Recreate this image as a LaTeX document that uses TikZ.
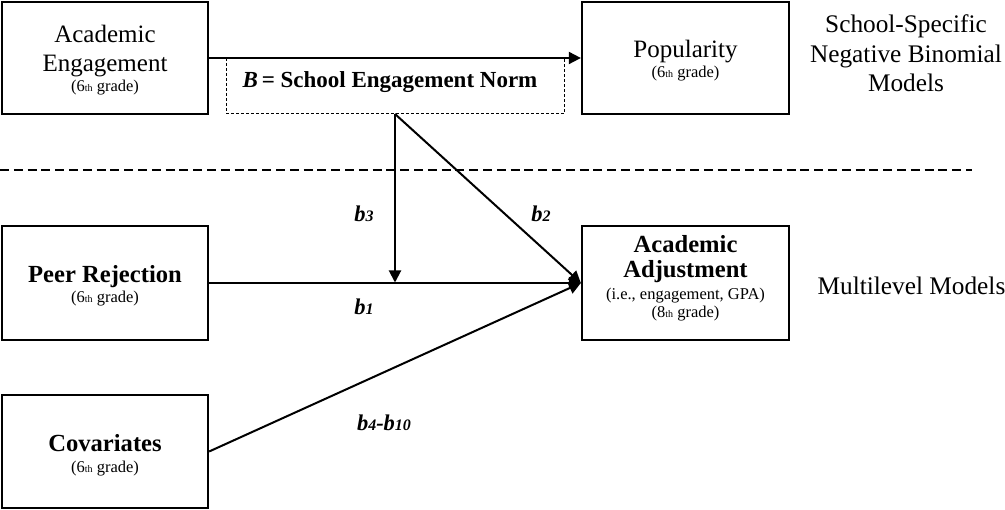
\documentclass[tikz,border=0pt]{standalone}
\usepackage{fontspec}
\setmainfont{Liberation Serif}
\usetikzlibrary{arrows.meta}
\newcommand{\ordth}{{\fontsize{10}{10}\selectfont th}}
\newcommand{\coef}[2]{\textbf{\textit{#1}}{\fontsize{16}{16}\selectfont\textbf{\textit{#2}}}}
\begin{document}
\begin{tikzpicture}[x=1pt,y=-1pt,
  box/.style={draw,line width=2.3pt,inner sep=0pt},
  conn/.style={line width=2pt,-{Triangle[length=12pt,width=12pt]}},
  normbox/.style={draw,line width=1pt,dash pattern=on 3pt off 2pt,inner sep=0pt},
  sepline/.style={line width=1.6pt,dash pattern=on 9pt off 4.8pt},
  reg/.style={anchor=base,inner sep=0pt,font=\fontsize{25}{30}\selectfont},
  bld/.style={anchor=base,inner sep=0pt,font=\fontsize{24.6}{30}\selectfont\bfseries},
  sml/.style={anchor=base,inner sep=0pt,font=\fontsize{16.5}{20}\selectfont},
  normtxt/.style={anchor=base,inner sep=0pt,font=\fontsize{23}{28}\selectfont\bfseries},
  side/.style={anchor=base,inner sep=0pt,font=\fontsize{25.3}{30}\selectfont},
  coeflabel/.style={inner sep=0pt,font=\fontsize{22.5}{24}\selectfont}]
\useasboundingbox (0,0) rectangle (1005,510);

% boxes
\node[box,minimum width=206pt,minimum height=112pt] (ae)  at (105,58) {};
\node[box,minimum width=207pt,minimum height=112pt] (pop) at (685.5,58) {};
\node[box,minimum width=206pt,minimum height=114pt] (pr)  at (105,283) {};
\node[box,minimum width=207pt,minimum height=114pt] (aa)  at (685.5,283) {};
\node[box,minimum width=206pt,minimum height=113pt] (cov) at (105,451.5) {};
\node[normbox,minimum width=338pt,minimum height=55pt] (norm) at (395,86.5) {};

% box texts
\node[reg] (ae1) at (105,43) {Academic};
\node[reg] (ae2) at (105,72) {Engagement};
\node[sml] (ae3) at (105,92) {(6\ordth{} grade)};
\node[reg] (pop1) at (685.5,58) {Popularity};
\node[sml] (pop2) at (685.5,78) {(6\ordth{} grade)};
\node[bld] (pr1) at (105,283) {Peer Rejection};
\node[sml] (pr2) at (105,303) {(6\ordth{} grade)};
\node[bld] (aa1) at (685.5,253) {Academic};
\node[bld] (aa2) at (685.5,278) {Adjustment};
\node[sml] (aa3) at (685.5,300) {(i.e., engagement, GPA)};
\node[sml] (aa4) at (685.5,318) {(8\ordth{} grade)};
\node[bld] (cov1) at (105,452) {Covariates};
\node[sml] (cov2) at (105,473) {(6\ordth{} grade)};
\node[normtxt] (normt) at (390,88) {\textit{B}\,= School Engagement Norm};

% side labels
\node[side] (ss1) at (906,33) {School-Specific};
\node[side] (ss2) at (906,63) {Negative Binomial};
\node[side] (ss3) at (906,92) {Models};
\node[side] (ml) at (911.5,295) {Multilevel Models};

% separator
\coordinate (sl) at (0,170);
\coordinate (sr) at (972,170);
\draw[sepline] (sl) -- (sr);

% connectors
\draw[conn] (ae.east) -- (pop.west);
\coordinate (mod) at (395,114);
\coordinate (hit) at (395,282.5);
\draw[conn] (pr.east) -- (aa.west);
\draw[conn] (mod) -- (hit);
\draw[conn] (mod) -- (aa.west);
\draw[conn] (cov.east) -- (aa.west);

% coefficient labels
\node[coeflabel] (b3) at (364,214) {\coef{b}{3}};
\node[coeflabel] (b2) at (541,214) {\coef{b}{2}};
\node[coeflabel] (b1) at (364,307) {\coef{b}{1}};
\node[coeflabel] (b410) at (384,423) {\coef{b}{4}\textbf{\textit{-}}\coef{b}{10}};
\end{tikzpicture}
\end{document}
